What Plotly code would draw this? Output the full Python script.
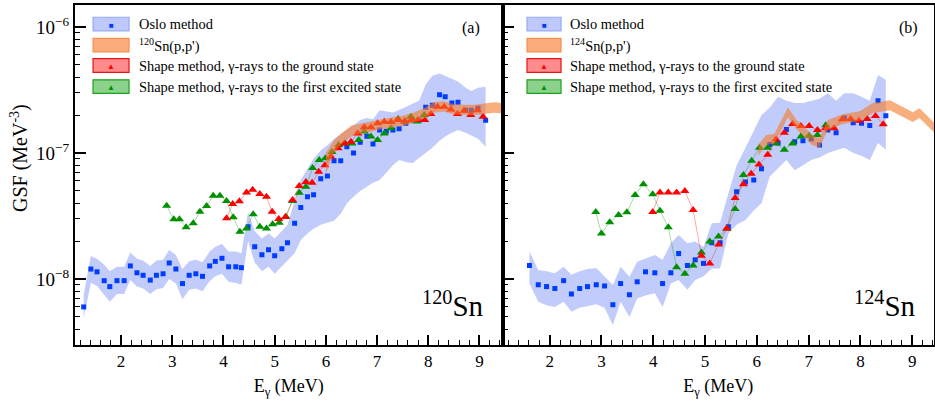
import plotly.graph_objects as go

# ---------------- Panel (a): 120Sn ----------------
oslo_a_E = [1.27, 1.41, 1.53, 1.67, 1.78, 1.92, 2.06, 2.18, 2.31, 2.43, 2.57, 2.69, 2.82, 2.94, 3.07,
            3.20, 3.33, 3.46, 3.59, 3.73, 3.84, 3.97, 4.10, 4.24, 4.35, 4.48, 4.61, 4.75, 4.88, 5.00,
            5.14, 5.25, 5.39, 5.51, 5.64, 5.76, 5.90, 6.03, 6.16, 6.29, 6.41, 6.54, 6.67, 6.80, 6.92,
            7.05, 7.18, 7.31, 7.43, 7.56, 7.69, 7.82, 7.95, 8.08, 8.22, 8.33, 8.46, 8.58, 8.73, 8.84,
            8.97, 9.12]
oslo_a_val = [6.0e-9, 1.20e-8, 1.14e-8, 9.7e-9, 8.7e-9, 9.7e-9, 9.7e-9, 1.27e-8, 1.12e-8, 1.07e-8,
              9.8e-9, 1.07e-8, 1.10e-8, 1.34e-8, 1.20e-8, 9.2e-9, 1.07e-8, 1.10e-8, 1.05e-8, 1.27e-8,
              1.38e-8, 1.46e-8, 1.25e-8, 1.25e-8, 1.23e-8, 2.6e-8, 1.80e-8, 1.56e-8, 1.71e-8, 1.53e-8,
              1.74e-8, 1.94e-8, 2.77e-8, 3.7e-8, 4.5e-8, 4.67e-8, 6.25e-8, 6.56e-8, 8.7e-8, 8.7e-8,
              1.12e-7, 1.0e-7, 1.22e-7, 1.36e-7, 1.18e-7, 1.52e-7, 1.49e-7, 1.52e-7, 1.56e-7, 1.72e-7,
              1.83e-7, 1.82e-7, 2.31e-7, 2.39e-7, 2.9e-7, 2.8e-7, 2.5e-7, 2.53e-7, 2.19e-7, 2.19e-7,
              2.27e-7, 1.82e-7]
oslo_a_lo = [4.9e-9, 9.3e-9, 8.8e-9, 7.5e-9, 6.6e-9, 7.6e-9, 7.6e-9, 9.8e-9, 8.7e-9, 8.4e-9,
             7.6e-9, 8.3e-9, 8.5e-9, 1.0e-8, 9.2e-9, 6.9e-9, 8.2e-9, 8.4e-9, 8.0e-9, 9.6e-9,
             1.05e-8, 1.1e-8, 9.5e-9, 9.3e-9, 9.0e-9, 2.0e-8, 1.35e-8, 1.15e-8, 1.25e-8, 1.1e-8,
             1.25e-8, 1.4e-8, 1.6e-8, 2.04e-8, 2.3e-8, 2.5e-8, 2.7e-8, 2.8e-8, 2.9e-8, 3.3e-8,
             4.0e-8, 4.5e-8, 5.0e-8, 5.4e-8, 5.8e-8, 6.1e-8, 7.0e-8, 8.0e-8, 8.8e-8, 8.5e-8,
             8.3e-8, 9.0e-8, 1.0e-7, 1.1e-7, 1.25e-7, 1.35e-7, 1.45e-7, 1.52e-7, 1.45e-7, 1.38e-7,
             1.3e-7, 1.12e-7]
oslo_a_hi = [7.5e-9, 1.52e-8, 1.45e-8, 1.3e-8, 1.15e-8, 1.25e-8, 1.25e-8, 1.62e-8, 1.45e-8, 1.4e-8,
             1.27e-8, 1.4e-8, 1.42e-8, 1.7e-8, 1.55e-8, 1.2e-8, 1.38e-8, 1.42e-8, 1.36e-8, 1.65e-8,
             1.8e-8, 1.9e-8, 1.65e-8, 1.65e-8, 1.6e-8, 3.4e-8, 2.4e-8, 2.1e-8, 2.3e-8, 2.1e-8,
             2.4e-8, 2.7e-8, 4.2e-8, 6.1e-8, 7.5e-8, 9.0e-8, 1.05e-7, 1.15e-7, 1.3e-7, 1.4e-7,
             1.52e-7, 1.65e-7, 1.83e-7, 1.9e-7, 1.85e-7, 2.19e-7, 2.15e-7, 2.1e-7, 2.2e-7, 2.33e-7,
             2.45e-7, 2.6e-7, 3.5e-7, 4.1e-7, 4.28e-7, 4.1e-7, 3.9e-7, 3.7e-7, 3.3e-7, 3.1e-7,
             3.3e-7, 3.36e-7]

pp_a_E = [6.0, 6.15, 6.3, 6.5, 6.7, 6.9, 7.1, 7.3, 7.5, 7.7, 7.9, 8.1, 8.3, 8.5, 8.7, 8.9, 9.1, 9.3, 9.5]
pp_a_lo = [6.8e-8, 1.0e-7, 1.18e-7, 1.36e-7, 1.43e-7, 1.48e-7, 1.55e-7, 1.59e-7, 1.64e-7, 1.73e-7,
           1.86e-7, 2.09e-7, 2.14e-7, 2.02e-7, 2.0e-7, 2.0e-7, 2.05e-7, 2.09e-7, 2.05e-7]
pp_a_hi = [1.0e-7, 1.25e-7, 1.43e-7, 1.65e-7, 1.72e-7, 1.79e-7, 1.87e-7, 1.92e-7, 1.98e-7, 2.09e-7,
           2.25e-7, 2.53e-7, 2.58e-7, 2.44e-7, 2.42e-7, 2.42e-7, 2.47e-7, 2.53e-7, 2.47e-7]

gs_a_E = [4.06, 4.18, 4.31, 4.45, 4.57, 4.71, 4.84, 4.95, 5.08, 5.21, 5.35, 5.48, 5.61, 5.73, 5.86,
          5.98, 6.10, 6.24, 6.36, 6.49, 6.62, 6.75, 6.88, 7.01, 7.14, 7.27, 7.41, 7.54, 7.67, 7.80,
          7.93, 8.05, 8.18, 8.31, 8.44, 8.57, 8.70, 8.83, 8.96, 9.07]
gs_a_val = [3.03e-8, 3.93e-8, 4.14e-8, 4.85e-8, 5.1e-8, 4.73e-8, 4.5e-8, 3.42e-8, 3.0e-8, 3.1e-8,
            4.24e-8, 5.47e-8, 5.9e-8, 5.8e-8, 7.1e-8, 8.0e-8, 9.35e-8, 1.09e-7, 1.19e-7, 1.23e-7,
            1.43e-7, 1.6e-7, 1.6e-7, 1.72e-7, 1.77e-7, 1.76e-7, 1.83e-7, 1.79e-7, 1.83e-7, 1.83e-7,
            1.83e-7, 2.04e-7, 2.33e-7, 2.33e-7, 2.22e-7, 2.04e-7, 2.17e-7, 2.0e-7, 2.19e-7, 1.94e-7]

ex_a_E = [2.89, 3.03, 3.14, 3.27, 3.41, 3.54, 3.67, 3.80, 3.93, 4.06, 4.19, 4.32, 4.45, 4.58, 4.71,
          4.84, 4.96, 5.09, 5.22, 5.35, 5.48, 5.61, 5.74, 5.87, 5.99, 6.12, 6.25, 6.38, 6.51, 6.64,
          6.75, 6.88, 7.01, 7.14, 7.27, 7.41, 7.54, 7.66, 7.78, 7.92]
ex_a_val = [3.82e-8, 2.98e-8, 2.98e-8, 2.57e-8, 2.77e-8, 3.42e-8, 3.79e-8, 4.58e-8, 4.58e-8, 4.16e-8,
            3.09e-8, 2.37e-8, 2.52e-8, 3.27e-8, 2.6e-8, 2.52e-8, 2.72e-8, 2.8e-8, 3.12e-8, 4.16e-8,
            4.84e-8, 5.4e-8, 7.6e-8, 8.8e-8, 9.1e-8, 1.02e-7, 1.16e-7, 1.19e-7, 1.19e-7, 1.27e-7,
            1.48e-7, 1.35e-7, 1.27e-7, 1.43e-7, 1.57e-7, 1.86e-7, 1.78e-7, 1.94e-7, 1.78e-7, 2.0e-7]

# ---------------- Panel (b): 124Sn ----------------
oslo_b_E = [1.61, 1.78, 1.94, 2.10, 2.27, 2.42, 2.58, 2.73, 2.90, 3.06, 3.22, 3.37, 3.54, 3.69, 3.85,
            4.03, 4.18, 4.34, 4.49, 4.66, 4.81, 4.97, 5.13, 5.29, 5.45, 5.61, 5.78, 5.94, 6.09, 6.25,
            6.41, 6.57, 6.73, 6.89, 7.05, 7.21, 7.37, 7.53, 7.69, 7.86, 8.02, 8.18, 8.34, 8.49]
oslo_b_val = [1.28e-8, 9.0e-9, 8.7e-9, 8.4e-9, 9.7e-9, 7.6e-9, 8.4e-9, 8.7e-9, 9.0e-9, 8.8e-9,
              6.25e-9, 9.2e-9, 7.5e-9, 9.5e-9, 1.14e-8, 1.12e-8, 9.2e-9, 1.12e-8, 1.59e-8, 1.28e-8,
              1.42e-8, 1.33e-8, 1.94e-8, 1.94e-8, 2.6e-8, 4.93e-8, 5.9e-8, 6.1e-8, 7.5e-8, 1.17e-7,
              1.2e-7, 1.54e-7, 1.23e-7, 1.25e-7, 1.29e-7, 1.16e-7, 1.52e-7, 1.45e-7, 1.9e-7, 1.74e-7,
              1.72e-7, 1.65e-7, 2.6e-7, 1.98e-7]
oslo_b_lo = [9.2e-9, 6.6e-9, 6.2e-9, 6.0e-9, 6.6e-9, 5.5e-9, 5.9e-9, 6.1e-9, 6.3e-9, 5.9e-9,
             4.3e-9, 6.6e-9, 5.0e-9, 7.0e-9, 7.4e-9, 7.7e-9, 6.0e-9, 9.2e-9, 9.8e-9, 8.2e-9,
             9.8e-9, 1.05e-8, 1.21e-8, 1.21e-8, 2.3e-8, 2.7e-8, 2.94e-8, 3.5e-8, 4.0e-8, 6.5e-8,
             7.5e-8, 8.8e-8, 7.3e-8, 8.0e-8, 8.8e-8, 9.2e-8, 1.0e-7, 1.05e-7, 1.1e-7, 1.0e-7,
             9.5e-8, 8.8e-8, 1.2e-7, 1.06e-7]
oslo_b_hi = [1.65e-8, 1.18e-8, 1.15e-8, 1.11e-8, 1.25e-8, 1.08e-8, 1.15e-8, 1.2e-8, 1.22e-8, 1.04e-8,
             8.95e-9, 1.25e-8, 1.04e-8, 1.37e-8, 1.45e-8, 1.55e-8, 1.42e-8, 1.92e-8, 2.23e-8, 1.92e-8,
             1.98e-8, 1.8e-8, 2.77e-8, 2.8e-8, 4.8e-8, 8.0e-8, 1.1e-7, 1.5e-7, 2.0e-7, 2.3e-7,
             2.8e-7, 2.6e-7, 2.5e-7, 2.5e-7, 2.6e-7, 2.7e-7, 2.98e-7, 2.6e-7, 2.98e-7, 2.98e-7,
             2.8e-7, 2.6e-7, 4.16e-7, 3.8e-7]

pp_b_E = [6.03, 6.18, 6.34, 6.6, 6.77, 6.94, 7.06, 7.21, 7.37, 7.66, 7.99, 8.24, 8.57, 8.76, 9.01, 9.14, 9.42]
pp_b_lo = [9.5e-8, 1.16e-7, 1.19e-7, 1.92e-7, 1.53e-7, 1.32e-7, 1.16e-7, 1.1e-7, 1.53e-7, 1.7e-7,
           1.8e-7, 2.08e-7, 2.19e-7, 2.0e-7, 1.76e-7, 1.9e-7, 1.46e-7]
pp_b_hi = [1.17e-7, 1.39e-7, 1.42e-7, 2.3e-7, 1.83e-7, 1.58e-7, 1.39e-7, 1.31e-7, 1.83e-7, 2.03e-7,
           2.15e-7, 2.49e-7, 2.62e-7, 2.39e-7, 2.11e-7, 2.27e-7, 1.75e-7]

gs_b_E = [3.99, 4.13, 4.29, 4.45, 4.61, 4.77, 4.93, 5.09, 5.26, 5.42, 5.58, 5.74, 5.89, 6.04, 6.21,
          6.37, 6.53, 6.69, 6.85, 7.01, 7.17, 7.33, 7.49, 7.65, 7.81, 7.97, 8.13, 8.29, 8.44]
gs_b_val = [3.4e-8, 4.87e-8, 4.87e-8, 4.87e-8, 5.0e-8, 3.53e-8, 1.53e-8, 1.33e-8, 1.88e-8, 2.52e-8,
            4.4e-8, 5.64e-8, 6.84e-8, 8.1e-8, 9.7e-8, 1.28e-7, 1.45e-7, 1.7e-7, 1.64e-7, 1.64e-7,
            1.52e-7, 1.57e-7, 1.57e-7, 1.85e-7, 1.86e-7, 1.80e-7, 1.86e-7, 1.97e-7, 1.69e-7]

ex_b_E = [2.89, 3.00, 3.16, 3.33, 3.49, 3.65, 3.81, 3.99, 4.13, 4.29, 4.45, 4.61, 4.77, 4.93, 5.09,
          5.26, 5.42, 5.58, 5.74, 5.90, 6.05, 6.21, 6.37, 6.53, 6.69, 6.85, 7.01, 7.17, 7.33]
ex_b_val = [3.4e-8, 2.3e-8, 2.82e-8, 3.22e-8, 3.38e-8, 4.65e-8, 5.65e-8, 4.7e-8, 3.48e-8, 2.57e-8,
            1.24e-8, 1.1e-8, 1.28e-8, 1.62e-8, 1.98e-8, 2.17e-8, 2.5e-8, 3.6e-8, 6.7e-8, 8.7e-8,
            1.1e-7, 1.1e-7, 1.19e-7, 1.06e-7, 1.19e-7, 1.35e-7, 1.37e-7, 1.39e-7, 1.66e-7]

legend_labels_a = ["Oslo method", "<sup>120</sup>Sn(p,p')",
                   "Shape method, γ-rays to the ground state",
                   "Shape method, γ-rays to the first excited state"]
legend_labels_b = ["Oslo method", "<sup>124</sup>Sn(p,p')",
                   "Shape method, γ-rays to the ground state",
                   "Shape method, γ-rays to the first excited state"]

FONT = "Liberation Serif, Times New Roman, serif"
BLUE_BAND = "rgba(80,110,240,0.35)"
BLUE = "rgb(0,60,255)"
ORANGE_BAND = "rgba(245,120,40,0.6)"
RED = "rgb(255,0,0)"
GREEN = "rgb(0,145,0)"

fig = go.Figure()


def add_panel(xa, ya, oE, oV, oLo, oHi, pE, pLo, pHi, gE, gV, eE, eV):
    fig.add_trace(go.Scatter(x=oE + oE[::-1], y=oHi + oLo[::-1], fill="toself", mode="lines",
                             line=dict(width=0), fillcolor=BLUE_BAND, xaxis=xa, yaxis=ya,
                             hoverinfo="skip", showlegend=False))
    fig.add_trace(go.Scatter(x=oE, y=oV, mode="markers",
                             marker=dict(symbol="square", size=5, color=BLUE),
                             xaxis=xa, yaxis=ya, showlegend=False))
    fig.add_trace(go.Scatter(x=eE, y=eV, mode="lines+markers",
                             line=dict(color="rgba(0,150,0,0.35)", width=1),
                             marker=dict(symbol="triangle-up", size=8, color=GREEN),
                             xaxis=xa, yaxis=ya, showlegend=False))
    fig.add_trace(go.Scatter(x=gE, y=gV, mode="lines+markers",
                             line=dict(color="rgba(255,0,0,0.35)", width=1),
                             marker=dict(symbol="triangle-up", size=8, color=RED),
                             xaxis=xa, yaxis=ya, showlegend=False))
    fig.add_trace(go.Scatter(x=pE + pE[::-1], y=pHi + pLo[::-1], fill="toself", mode="lines",
                             line=dict(width=0), fillcolor=ORANGE_BAND, xaxis=xa, yaxis=ya,
                             hoverinfo="skip", showlegend=False))


add_panel("x", "y", oslo_a_E, oslo_a_val, oslo_a_lo, oslo_a_hi, pp_a_E, pp_a_lo, pp_a_hi,
          gs_a_E, gs_a_val, ex_a_E, ex_a_val)
add_panel("x2", "y2", oslo_b_E, oslo_b_val, oslo_b_lo, oslo_b_hi, pp_b_E, pp_b_lo, pp_b_hi,
          gs_b_E, gs_b_val, ex_b_E, ex_b_val)

minor_y = [k * 10.0 ** e for e in (-9, -8, -7, -6) for k in range(2, 10)]

xax = dict(showgrid=False, zeroline=False, showline=True, linecolor="black", linewidth=2, mirror=True,
           automargin=False,
           ticks="inside", ticklen=10, tickwidth=1.5, tickcolor="black", dtick=1, tick0=0,
           minor=dict(ticks="inside", ticklen=5, tickwidth=1.2, tickcolor="black", dtick=0.2, showgrid=False),
           tickfont=dict(family=FONT, size=17, color="black"),
           title=dict(text="E<sub>γ</sub> (MeV)", font=dict(family=FONT, size=18, color="black"), standoff=9))
yax = dict(type="log", range=[-8.524, -5.825], showgrid=False, zeroline=False, showline=True,
           automargin=False,
           linecolor="black", linewidth=2, mirror=True, ticks="inside", ticklen=11, tickwidth=1.5,
           tickcolor="black", tickmode="array", tickvals=[1e-8, 1e-7, 1e-6],
           ticktext=["10<sup>−8</sup>", "10<sup>−7</sup>", "10<sup>−6</sup>"],
           minor=dict(ticks="inside", ticklen=5, tickwidth=1.2, tickcolor="black", tickmode="array",
                      tickvals=minor_y, showgrid=False),
           tickfont=dict(family=FONT, size=19, color="black"))

fig.update_layout(
    width=935, height=402, margin=dict(l=75, r=1, t=5, b=57, autoexpand=False),
    plot_bgcolor="white", paper_bgcolor="white", showlegend=False,
    xaxis=dict(xax, domain=[0, 0.4977], range=[1.1, 9.45], anchor="y"),
    yaxis=dict(yax, anchor="x"),
    xaxis2=dict(xax, domain=[0.4977, 1.0], range=[1.09, 9.42], anchor="y2"),
    yaxis2=dict(yax, anchor="x2", showticklabels=False),
)

shapes = []
annotations = []
row_y = [0.944, 0.882, 0.822, 0.760]
sw_fill = ["rgb(190,200,250)", "rgb(250,172,122)", "rgb(255,140,140)", "rgb(140,210,140)"]
sw_line = ["rgb(150,170,245)", "rgb(245,145,85)", "rgb(235,20,20)", "rgb(30,160,30)"]
glyph = ["■", "", "▲", "▲"]
glyph_col = [BLUE, "", RED, GREEN]
for (x0, x1, xt, labels) in [(0.0210, 0.0629, 0.0722, legend_labels_a),
                             (0.5262, 0.5658, 0.5740, legend_labels_b)]:
    for i, ry in enumerate(row_y):
        shapes.append(dict(type="rect", xref="paper", yref="paper", x0=x0, x1=x1,
                           y0=ry - 0.02, y1=ry + 0.02, fillcolor=sw_fill[i],
                           line=dict(color=sw_line[i], width=1.2)))
        if glyph[i]:
            annotations.append(dict(xref="paper", yref="paper", x=(x0 + x1) / 2, y=ry, text=glyph[i],
                                    showarrow=False, font=dict(size=8, color=glyph_col[i]),
                                    xanchor="center", yanchor="middle"))
        annotations.append(dict(xref="paper", yref="paper", x=xt, y=ry, text=labels[i],
                                showarrow=False, xanchor="left", yanchor="middle",
                                font=dict(family=FONT, size=14.4, color="black")))

annotations += [
    dict(xref="paper", yref="paper", x=0.4615, y=0.933, text="(a)", showarrow=False,
         xanchor="center", yanchor="middle", font=dict(family=FONT, size=16, color="black")),
    dict(xref="paper", yref="paper", x=0.970, y=0.933, text="(b)", showarrow=False,
         xanchor="center", yanchor="middle", font=dict(family=FONT, size=16, color="black")),
    dict(xref="paper", yref="paper", x=0.479, y=0.12, text="<sup>120</sup>Sn", showarrow=False,
         xanchor="right", yanchor="middle", font=dict(family=FONT, size=29, color="black")),
    dict(xref="paper", yref="paper", x=0.981, y=0.12, text="<sup>124</sup>Sn", showarrow=False,
         xanchor="right", yanchor="middle", font=dict(family=FONT, size=29, color="black")),
    dict(xref="paper", yref="paper", x=-0.064, y=0.55, text="GSF (MeV<sup>-3</sup>)",
         textangle=-90, showarrow=False, xanchor="center", yanchor="middle",
         font=dict(family=FONT, size=20, color="black")),
]
fig.update_layout(shapes=shapes, annotations=annotations)

fig.write_html("out.html", config={"displayModeBar": False},
               post_script="document.body.style.margin='0';document.body.style.padding='0';")
